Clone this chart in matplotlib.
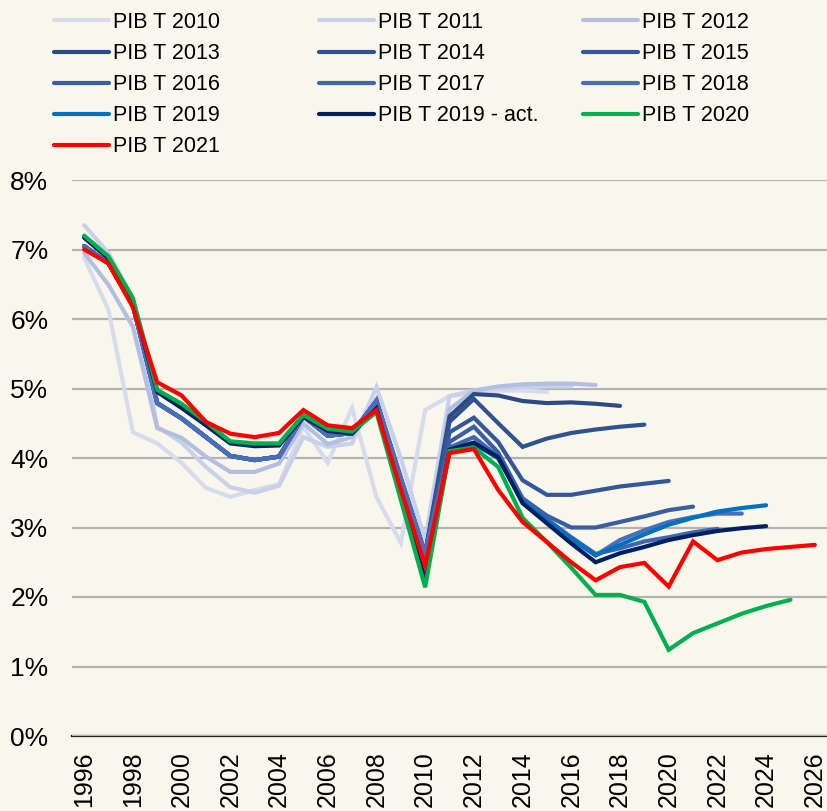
import matplotlib
matplotlib.use("Agg")
import matplotlib.pyplot as plt
import numpy as np

plt.rcParams['font.family'] = ['Liberation Sans', 'DejaVu Sans']

years = list(range(1996, 2027))

# historique commun aux millésimes 2013-2018 (1996-2010)
hist_bleu = [7.05, 6.80, 6.20, 4.79, 4.57, 4.30, 4.03, 3.97, 4.02, 4.60,
             4.32, 4.36, 4.82, 3.70, 2.62]

pib_2010 = [6.88, 6.13, 4.37, 4.21, 3.93, 3.57, 3.44, 3.54, 3.62, 4.45,
            3.93, 4.72, 3.44, 2.78, 4.69, 4.89, 4.93, 4.97, 4.97, 4.95]
pib_2011 = [7.35, 6.95, 6.30, 4.45, 4.22, 3.87, 3.58, 3.50, 3.60, 4.30,
            4.16, 4.21, 5.02, 4.00, 2.82, 4.89, 4.97, 5.00, 5.02, 5.03, 5.03]
pib_2012 = [6.95, 6.49, 5.89, 4.43, 4.29, 4.02, 3.80, 3.80, 3.92, 4.50,
            4.20, 4.30, 4.85, 3.75, 2.65, 4.70, 4.97, 5.03, 5.06, 5.07, 5.07, 5.05]
pib_2013 = hist_bleu + [4.60, 4.92, 4.90, 4.82, 4.79, 4.80, 4.78, 4.75]
pib_2014 = hist_bleu + [4.52, 4.85, 4.50, 4.16, 4.28, 4.36, 4.41, 4.45, 4.48]
pib_2015 = hist_bleu + [4.37, 4.58, 4.23, 3.68, 3.47, 3.47, 3.53, 3.59, 3.63, 3.67]
pib_2016 = hist_bleu + [4.23, 4.45, 4.08, 3.42, 3.17, 3.00, 3.00, 3.08, 3.16, 3.25, 3.30]
pib_2017 = hist_bleu + [4.15, 4.30, 4.02, 3.40, 3.12, 2.86, 2.62, 2.70, 2.80, 2.86, 2.93, 2.98]
pib_2018 = hist_bleu + [4.12, 4.22, 4.00, 3.38, 3.08, 2.83, 2.60, 2.82, 2.96, 3.08, 3.15, 3.20, 3.20]
pib_2019 = [7.18, 6.88, 6.27, 4.96, 4.73, 4.48, 4.22, 4.18, 4.19, 4.60,
            4.40, 4.36, 4.72, 3.45, 2.25, 4.12, 4.20, 4.00, 3.38, 3.10,
            2.84, 2.60, 2.75, 2.90, 3.04, 3.14, 3.23, 3.28, 3.32]
pib_2019_act = [7.17, 6.87, 6.25, 4.95, 4.72, 4.47, 4.21, 4.17, 4.18, 4.59,
                4.39, 4.35, 4.71, 3.44, 2.24, 4.12, 4.22, 4.01, 3.35, 3.06,
                2.77, 2.50, 2.63, 2.72, 2.82, 2.89, 2.95, 2.99, 3.02]
pib_2020 = [7.20, 6.90, 6.30, 4.98, 4.78, 4.52, 4.24, 4.21, 4.21, 4.62,
            4.42, 4.38, 4.66, 3.40, 2.14, 4.10, 4.15, 3.87, 3.14, 2.79,
            2.42, 2.03, 2.03, 1.93, 1.24, 1.48, 1.62, 1.76, 1.87, 1.96]
pib_2021 = [7.00, 6.80, 6.17, 5.09, 4.90, 4.52, 4.35, 4.30, 4.36, 4.69,
            4.47, 4.43, 4.69, 3.55, 2.45, 4.07, 4.13, 3.54, 3.08, 2.79,
            2.50, 2.24, 2.43, 2.49, 2.15, 2.80, 2.53, 2.64, 2.69, 2.72, 2.75]

labels = ["PIB T 2010", "PIB T 2011", "PIB T 2012", "PIB T 2013", "PIB T 2014",
          "PIB T 2015", "PIB T 2016", "PIB T 2017", "PIB T 2018", "PIB T 2019",
          "PIB T 2019 - act.", "PIB T 2020", "PIB T 2021"]
series = [pib_2010, pib_2011, pib_2012, pib_2013, pib_2014, pib_2015, pib_2016,
          pib_2017, pib_2018, pib_2019, pib_2019_act, pib_2020, pib_2021]
colors = ['#D6DCEE', '#C9D1EA', '#B3BFE0', '#2C4A83', '#2F5290', '#33579A',
          '#3A5EA4', '#4165AE', '#4A6FBA', '#0070C0', '#002060', '#00B050', '#FF0000']

bg = '#F9F7EB'
fig = plt.figure(figsize=(8.27, 8.11), dpi=100, facecolor=bg)
ax = fig.add_axes([72/827, 75/811, 755/827, 556/811])
ax.set_facecolor(bg)

lines = {}
for lab, vals, col in zip(labels, series, colors):
    ln, = ax.plot(years[:len(vals)], vals, color=col, lw=3.0,
                  solid_joinstyle='miter', solid_capstyle='round', label=lab)
    lines[lab] = ln

ax.set_xlim(1995.5, 2026.5)
ax.set_ylim(0, 8)
ax.set_yticks(range(0, 9))
ax.set_yticklabels([f"{v}%" for v in range(0, 9)])
ax.set_xticks(years[::2])
ax.set_xticklabels([str(y) for y in years[::2]], rotation=90)
ax.tick_params(axis='y', length=0, pad=17, labelsize=19)
ax.tick_params(axis='x', length=0, pad=11, labelsize=18)

ax.grid(axis='y', color='#B3B3B3', lw=1.6)
ax.set_axisbelow(True)
for s in ['top', 'right', 'left']:
    ax.spines[s].set_visible(False)
ax.spines['bottom'].set_color('#222222')
ax.spines['bottom'].set_linewidth(1.6)
ax.spines['bottom'].set_zorder(0.5)

# légende en trois colonnes à largeur fixe
cols = [["PIB T 2010", "PIB T 2013", "PIB T 2016", "PIB T 2019", "PIB T 2021"],
        ["PIB T 2011", "PIB T 2014", "PIB T 2017", "PIB T 2019 - act."],
        ["PIB T 2012", "PIB T 2015", "PIB T 2018", "PIB T 2020"]]
col_x = [54, 319, 583]
for labs, x0 in zip(cols, col_x):
    fig.legend([lines[l] for l in labs], labs, loc='upper left',
               bbox_to_anchor=(x0/827, 1 - 12/811), frameon=False,
               fontsize=15.5, handlelength=2.55, handletextpad=0.2,
               labelspacing=0.47, borderpad=0, borderaxespad=0)

fig.savefig("out.png", dpi=100, facecolor=bg)
